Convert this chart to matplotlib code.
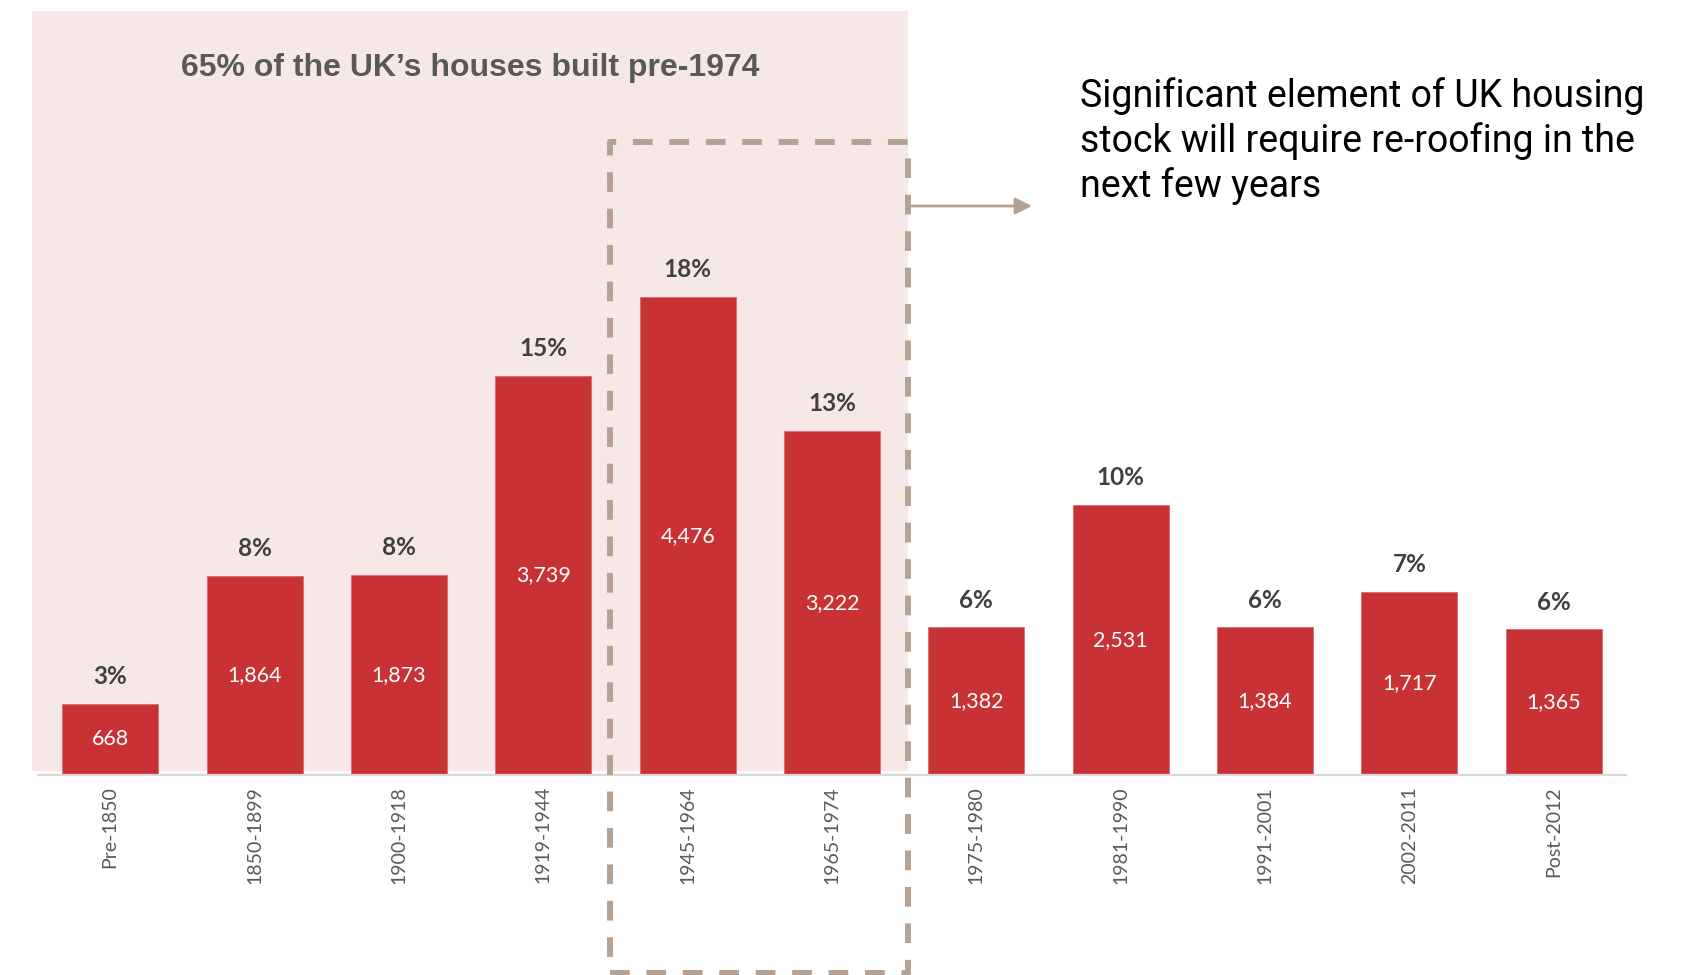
"""
UK housing stock by construction period.
"""

import matplotlib
matplotlib.use('Agg')

import matplotlib.pyplot as plt
from matplotlib.patches import Rectangle, FancyArrowPatch
import numpy as np

periods = ["Pre-1850", "1850-1899", "1900-1918", "1919-1944", "1945-1964", "1965-1974",
           "1975-1980", "1981-1990", "1991-2001", "2002-2011", "Post-2012"]
houses = [668, 1864, 1873, 3739, 4476, 3222, 1382, 2531, 1384, 1717, 1365]
shares = [3, 8, 8, 15, 18, 13, 6, 10, 6, 7, 6]

W, H = 1694, 975
RED = "#C83235"
PINK = "#F7E8E8"
BOX = "#B5A293"


def fx(px):
    return px / W


def fy(py):
    return 1 - py / H


fig = plt.figure(figsize=(W / 100, H / 100), dpi=100)

# pink highlight area behind the pre-1974 bars
fig.add_artist(Rectangle((fx(32), fy(771)), fx(908) - fx(32), fy(11) - fy(771),
                         transform=fig.transFigure, facecolor=PINK, edgecolor="none", zorder=-1))

ax = fig.add_axes([fx(38), fy(775), fx(1626) - fx(38), fy(10) - fy(775)])
ax.patch.set_visible(False)

x = np.arange(len(periods))
bars = ax.bar(x, houses, width=0.665, color=RED, edgecolor="#E06A6C", linewidth=0.6, zorder=2)

ax.set_xlim(-0.5, len(periods) - 0.5)
ax.set_ylim(0, 765 / 0.10679)

for xi, val, pct in zip(x, houses, shares):
    ax.text(xi, val / 2, f"{val:,}", ha="center", va="center", color="white",
            fontsize=15.5, family="Lato", zorder=3)
    ax.annotate(f"{pct}%", (xi, val), xytext=(0, 19.5), textcoords="offset points",
                ha="center", va="center", fontsize=17.5, fontweight="bold",
                family="Lato", color="#404040")

ax.set_xticks(x)
ax.set_xticklabels(periods, rotation=90, va="top", ha="center",
                   fontsize=14, family="Lato", color="#595959")
ax.tick_params(axis="x", length=0, pad=8)
ax.set_yticks([])
for side in ["top", "right", "left"]:
    ax.spines[side].set_visible(False)
ax.spines["bottom"].set_color("#D9D9D9")
ax.spines["bottom"].set_linewidth(1.6)

fig.text(fx(470), fy(68), "65% of the UK\u2019s houses built pre-1974", ha="center", va="center",
         fontsize=23, fontweight="bold", color="#595959",
         family=["Liberation Sans Narrow", "Liberation Sans", "DejaVu Sans"])

# dashed box round the post-war bars
box = Rectangle((fx(610), fy(973)), fx(908) - fx(610), fy(142) - fy(973),
                transform=fig.transFigure, facecolor="none", edgecolor=BOX,
                linewidth=4.3, linestyle=(0, (3.3, 2.8)), joinstyle="round", zorder=5)
fig.add_artist(box)

arrow = FancyArrowPatch((fx(908), fy(206)), (fx(1032), fy(206)), transform=fig.transFigure,
                        arrowstyle="-|>,head_length=10,head_width=5", color=BOX,
                        linewidth=2, shrinkA=0, shrinkB=0, zorder=5)
fig.add_artist(arrow)

fig.text(fx(1080), fy(141),
         "Significant element of UK housing\nstock will require re-roofing in the\nnext few years",
         ha="left", va="center", fontsize=27, family="Roboto", color="black", linespacing=1.25)

plt.savefig("out.png", dpi=100)
plt.close()
